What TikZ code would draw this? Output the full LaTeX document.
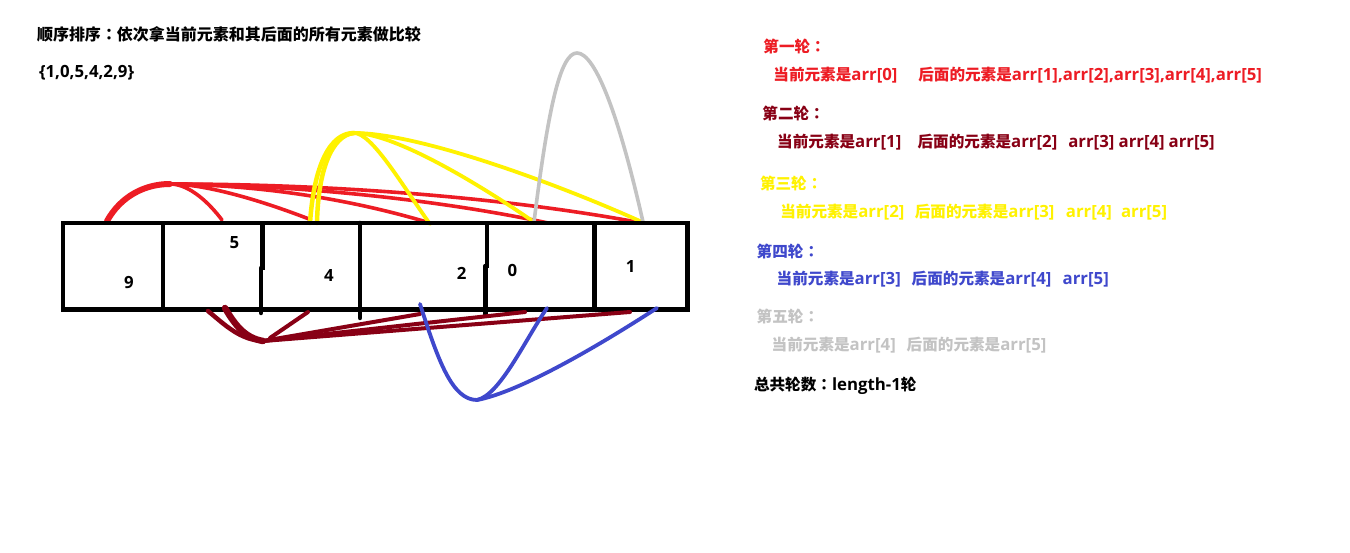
\documentclass[tikz,border=0pt]{standalone}
\usepackage{fontspec}
\newfontfamily\cjkfont{Noto Sans CJK SC}
\newfontfamily\cjktcfont{Noto Sans CJK TC}
\newfontfamily\latfont{Open Sans}
\newcommand\zhb[2][15.6]{{\cjkfont\bfseries\fontsize{#1}{#1}\selectfont #2}}
\newcommand\zcol[1][15.6]{{\cjktcfont\bfseries\fontsize{#1}{#1}\selectfont ：}}
\newcommand\enb[2][16.8]{{\latfont\bfseries\fontsize{#1}{#1}\selectfont #2}}
\definecolor{pred}{RGB}{237,28,36}
\definecolor{pdark}{RGB}{136,0,21}
\definecolor{pyel}{RGB}{255,242,0}
\definecolor{pblue}{RGB}{63,72,204}
\definecolor{pgray}{RGB}{195,195,195}
\tikzset{
  txt/.style={anchor=base west, inner sep=0pt, outer sep=0pt},
  numtxt/.style={anchor=base, inner sep=0pt, outer sep=0pt},
  boxln/.style={draw=black, line width=4.5pt},
  redln/.style={draw=pred, line width=3.6pt, line cap=round},
  yelln/.style={draw=pyel, line width=3.8pt, line cap=round},
  gryln/.style={draw=pgray, line width=3.6pt, line cap=round},
  drkln/.style={draw=pdark, line width=4pt, line cap=round},
  bluln/.style={draw=pblue, line width=3.8pt, line cap=round},
}
\begin{document}
\begin{tikzpicture}[x=1pt,y=-1pt]
\fill[white] (0,0) rectangle (1350,553);
\useasboundingbox (0,0) rectangle (1350,553);

% texts top-left
\node[txt] (title) at (37,40.3) {\zhb[16]{顺序排序}\zcol[16]\zhb[16]{依次拿当前元素和其后面的所有元素做比较}};
\node[txt] (arr) at (39,77.3) {\enb{\{1,0,5,4,2,9\}}};

% red arcs (round 1)
\draw[redln, line width=6pt] (107,221) .. controls (121,196) and (145,184) .. (170,184);
\draw[redln] (170,184) .. controls (190,184) and (210,204) .. (222,220);
\draw[redln] (170,184) .. controls (205,184) and (260,200) .. (309,219);
\draw[redln] (170,184) .. controls (250,185) and (340,196) .. (430,223);
\draw[redln] (170,184) .. controls (300,185) and (440,200) .. (548,223);
\draw[redln] (170,184) .. controls (350,184) and (520,200) .. (642,223);

% yellow arcs (round 3)
\draw[yelln, line width=4.5pt] (310,223) .. controls (314,165) and (330,133) .. (354,133);
\draw[yelln, line width=4.5pt] (317,223) .. controls (318,170) and (332,135) .. (354,133);
\draw[yelln] (354,133) .. controls (372,133) and (402,185) .. (430,224);
\draw[yelln] (354,133) .. controls (392,133) and (470,178) .. (534,222);
\draw[yelln] (354,133) .. controls (420,133) and (560,185) .. (642,222);

% gray arc (round 5)
\draw[gryln] (534,222) .. controls (548,110) and (560,53) .. (577,53) .. controls (596,53) and (620,120) .. (643,222);

% the array box
\draw[boxln] (63,223) rectangle (687.3,309.5);
\draw[boxln] (163,223) -- (163,309.5);
\draw[boxln] (262.3,223) -- (262.3,270);
\draw[boxln, line cap=round] (261,268) -- (261,313);
\draw[boxln, line cap=round] (360,223) -- (360,318);
\draw[boxln] (487,223) -- (487,268);
\draw[boxln, line cap=round] (485.5,266) -- (485.5,314);
\draw[boxln] (594.5,223) -- (594.5,309.5);

% numbers
\node[numtxt] (n9) at (129,288.7) {\enb{9}};
\node[numtxt] (n5) at (234.3,249) {\enb{5}};
\node[numtxt] (n4) at (329,281.7) {\enb{4}};
\node[numtxt] (n2) at (461.7,280) {\enb{2}};
\node[numtxt] (n0) at (512.3,276.7) {\enb{0}};
\node[numtxt] (n1) at (630.7,272.7) {\enb{1}};

% dark red (round 2)
\draw[drkln, line width=4.5pt] (208,311) .. controls (225,325) and (240,340) .. (263,341);
\draw[drkln, line width=6.5pt] (225,308) .. controls (235,325) and (245,338) .. (263,341);
\draw[drkln] (270,338) -- (308,312);
\draw[drkln] (263,341) -- (420,314);
\draw[drkln] (263,341) -- (525,312);
\draw[drkln] (263,341) -- (630,312);

% blue (round 4)
\draw[bluln] (420,304) .. controls (438,360) and (452,400) .. (477,400);
\draw[bluln] (477,400) .. controls (500,395) and (525,340) .. (547,308);
\draw[bluln] (477,400) .. controls (520,392) and (600,345) .. (657,308);

% right side texts
\node[txt, text=pred] (r1h) at (763.4,52.7) {\zhb{第一轮}\zcol};
\node[txt, text=pred] (r1a) at (773.4,81) {\zhb{当前元素是}\enb{arr[0]}};
\node[txt, text=pred] (r1b) at (918.3,81) {\zhb{后面的元素是}\enb{arr[1],arr[2],arr[3],arr[4],arr[5]}};

\node[txt, text=pdark] (r2h) at (762.4,119.3) {\zhb{第二轮}\zcol};
\node[txt, text=pdark] (r2a) at (777.2,147.7) {\zhb{当前元素是}\enb{arr[1]}};
\node[txt, text=pdark] (r2b) at (917.6,147.7) {\zhb{后面的元素是}\enb{arr[2]}};
\node[txt, text=pdark] (r2c) at (1068.3,147.7) {\enb{arr[3]}};
\node[txt, text=pdark] (r2d) at (1118.6,147.7) {\enb{arr[4]}};
\node[txt, text=pdark] (r2e) at (1168.6,147.7) {\enb{arr[5]}};

\node[txt, text=pyel] (r3h) at (760,189.3) {\zhb{第三轮}\zcol};
\node[txt, text=pyel] (r3a) at (780.3,217.7) {\zhb{当前元素是}\enb{arr[2]}};
\node[txt, text=pyel] (r3b) at (914.8,217.7) {\zhb{后面的元素是}\enb{arr[3]}};
\node[txt, text=pyel] (r3c) at (1065.9,217.7) {\enb{arr[4]}};
\node[txt, text=pyel] (r3d) at (1121,217.7) {\enb{arr[5]}};

\node[txt, text=pblue] (r4h) at (756.7,257.7) {\zhb{第四轮}\zcol};
\node[txt, text=pblue] (r4a) at (776.7,285) {\zhb{当前元素是}\enb{arr[3]}};
\node[txt, text=pblue] (r4b) at (911.7,285) {\zhb{后面的元素是}\enb{arr[4]}};
\node[txt, text=pblue] (r4c) at (1062.7,285) {\enb{arr[5]}};

\node[txt, text=pgray] (r5h) at (756.7,322.7) {\zhb{第五轮}\zcol};
\node[txt, text=pgray] (r5a) at (771.7,350.3) {\zhb{当前元素是}\enb{arr[4]}};
\node[txt, text=pgray] (r5b) at (906.7,350.3) {\zhb{后面的元素是}\enb{arr[5]}};

\node[txt] (total) at (754,391) {\zhb{总共轮数}\zcol\enb{length-1}\zhb{轮}};
\end{tikzpicture}
\end{document}
